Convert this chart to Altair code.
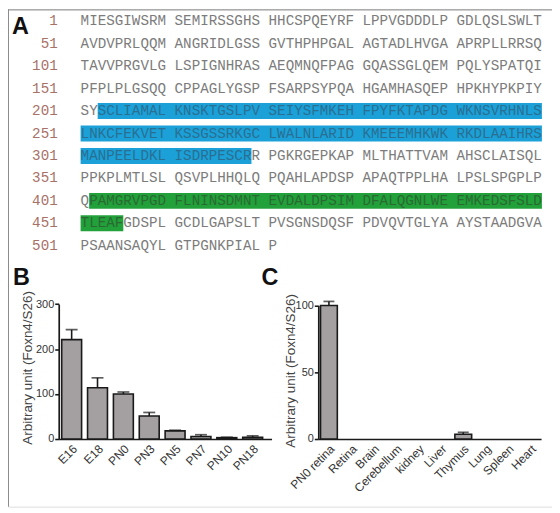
import altair as alt
import pandas as pd

# ---------------- data ----------------
seq_lines = [
    "MIESGIWSRM SEMIRSSGHS HHCSPQEYRF LPPVGDDDLP GDLQSLSWLT",
    "AVDVPRLQQM ANGRIDLGSS GVTHPHPGAL AGTADLHVGA APRPLLRRSQ",
    "TAVVPRGVLG LSPIGNHRAS AEQMNQFPAG GQASSGLQEM PQLYSPATQI",
    "PFPLPLGSQQ CPPAGLYGSP FSARPSYPQA HGAMHASQEP HPKHYPKPIY",
    "SYSCLIAMAL KNSKTGSLPV SEIYSFMKEH FPYFKTAPDG WKNSVRHNLS",
    "LNKCFEKVET KSSGSSRKGC LWALNLARID KMEEEMHKWK RKDLAAIHRS",
    "MANPEELDKL ISDRPESCRR PGKRGEPKAP MLTHATTVAM AHSCLAISQL",
    "PPKPLMTLSL QSVPLHHQLQ PQAHLAPDSP APAQTPPLHA LPSLSPGPLP",
    "QPAMGRVPGD FLNINSDMNT EVDALDPSIM DFALQGNLWE EMKEDSFSLD",
    "TLEAFGDSPL GCDLGAPSLT PVSGNSDQSF PDVQVTGLYA AYSTAADGVA",
    "PSAANSAQYL GTPGNKPIAL P",
]
row_numbers = [1, 51, 101, 151, 201, 251, 301, 351, 401, 451, 501]
hl_names = ["blue", "green"]
hl_start = [203, 402]
hl_end = [319, 455]
hl_fill = {"blue": "#1ba1d8", "green": "#22a03a"}
hl_text = {"blue": "#2a6f92", "green": "#2a6a32"}

stages = ["E16", "E18", "PN0", "PN3", "PN5", "PN7", "PN10", "PN18"]
stage_mean = [221, 114, 100, 51, 18, 5.5, 3, 4]
stage_sem = [22, 22, 4.5, 8, 1.5, 4, 1, 3]

tissues = ["PN0 retina", "Retina", "Brain", "Cerebellum", "kidney",
           "Liver", "Thymus", "Lung", "Spleen", "Heart"]
tissue_mean = [100, 0, 0, 0, 0, 0, 3.5, 0, 0, 0]
tissue_sem = [3, 0, 0, 0, 0, 0, 1.5, 0, 0, 0]

# ---------------- layout constants ----------------
W, H = 547, 500
CW = 8.59                      # monospace char advance
SEQ_X0 = 73
SEQ_Y0, ROW_H = 12, 22.57
MONO = "Courier New, Liberation Mono, monospace"
SANS = "Liberation Sans, Arial, sans-serif"
TXT = "#7c7c7c"
NUM = "#a87168"

# ---------------- sequence tables ----------------
chars = []
for r, line in enumerate(seq_lines):
    k = 0
    for c, ch in enumerate(line):
        if ch == " ":
            continue
        res = r * 50 + k + 1
        k += 1
        col = TXT
        for n, s, e in zip(hl_names, hl_start, hl_end):
            if s <= res <= e:
                col = hl_text[n]
        chars.append({"col": c, "row": r, "ch": ch, "tc": col})
chars_df = pd.DataFrame(chars)

hl = []
for n, s, e in zip(hl_names, hl_start, hl_end):
    for r in range(len(seq_lines)):
        a = max(s, r * 50 + 1)
        b = min(e, r * 50 + 50)
        if a > b:
            continue
        ka, kb = a - r * 50 - 1, b - r * 50 - 1
        hl.append({"x0": ka + ka // 10, "x1": kb + kb // 10 + 1,
                   "y0": r - 0.355, "y1": r + 0.355, "fill": hl_fill[n]})
hl_df = pd.DataFrame(hl)
nums_df = pd.DataFrame({"row": list(range(len(row_numbers))), "num": [str(v) for v in row_numbers]})

sx = alt.Scale(domain=[0, 54], range=[SEQ_X0, SEQ_X0 + 54 * CW], nice=False, zero=False)
sy = alt.Scale(domain=[0, 10], range=[SEQ_Y0, SEQ_Y0 + 10 * ROW_H], nice=False, zero=False)

hl_layer = alt.Chart(hl_df).mark_rect().encode(
    x=alt.X("x0:Q", scale=sx, axis=None), x2="x1:Q",
    y=alt.Y("y0:Q", scale=sy, axis=None), y2="y1:Q",
    color=alt.Color("fill:N", scale=None),
)
txt_layer = alt.Chart(chars_df).mark_text(
    align="left", baseline="middle", font=MONO, fontSize=14.3
).encode(
    x=alt.X("col:Q", scale=sx, axis=None),
    y=alt.Y("row:Q", scale=sy, axis=None),
    text="ch:N",
    color=alt.Color("tc:N", scale=None),
)
num_layer = alt.Chart(nums_df).mark_text(
    align="right", baseline="middle", font=MONO, fontSize=14.3, color=NUM
).encode(
    x=alt.value(50),
    y=alt.Y("row:Q", scale=sy, axis=None),
    text="num:N",
)
seq = alt.layer(hl_layer, txt_layer, num_layer)

# ---------------- bar panels ----------------
BAR_FILL = "#a4a0a2"
INK = "#1a1a1a"


def bar_panel(cats, means, sems, x_range, pad_in, pad_out, align, y_dom, y_range, y_vals,
              cap, y_axis_x, title_dx, title_y):
    df = pd.DataFrame({"cat": cats, "mean": means, "sem": sems})
    df["top"] = df["mean"] + df["sem"]
    xs = alt.Scale(domain=cats, range=x_range, paddingInner=pad_in, paddingOuter=pad_out,
                   align=align)
    ys = alt.Scale(domain=y_dom, range=y_range, nice=False, zero=True)
    xax = alt.Axis(orient="bottom", offset=y_range[0] - H, labelAngle=-45, ticks=False,
                   labelFont=SANS, labelFontSize=12, labelColor="#333", labelPadding=4,
                   domainColor=INK, domainWidth=1.7, title=None, grid=False)
    yax = alt.Axis(orient="left", offset=-y_axis_x, values=y_vals, tickSize=4, tickWidth=1.6,
                   tickColor=INK, domainColor=INK, domainWidth=1.7, grid=False,
                   labelFont=SANS, labelFontSize=11, labelColor="#333", labelPadding=1,
                   title="Arbitrary unit (Foxn4/S26)", titleFont=SANS, titleFontSize=13.5,
                   titleFontWeight="normal", titleColor="#444", titleAngle=270,
                   titleBaseline="alphabetic", titleAlign="center",
                   titleX=title_dx, titleY=title_y)
    base = alt.Chart(df).mark_bar(fill=BAR_FILL, stroke=INK, strokeWidth=1.6).encode(
        x=alt.X("cat:N", scale=xs, axis=xax, sort=cats),
        y=alt.Y("mean:Q", scale=ys, axis=yax),
    ).transform_filter("datum.mean > 0")
    err = alt.Chart(df).transform_filter("datum.sem > 0")
    rules = err.mark_rule(color=INK, strokeWidth=1.6).encode(
        x=alt.X("cat:N", scale=xs, sort=cats), y=alt.Y("mean:Q", scale=ys), y2="top:Q"
    )
    caps = err.mark_tick(color=INK, thickness=1.7, size=cap).encode(
        x=alt.X("cat:N", scale=xs, sort=cats), y=alt.Y("top:Q", scale=ys)
    )
    return alt.layer(base, rules, caps)


panel_b = bar_panel(stages, stage_mean, stage_sem, [51, 265], 0.23, 0.23, 0.25,
                    [0, 300], [432, 296.3], [0, 100, 200, 300], 12, 51, -27.5, 360)
panel_c = bar_panel(tissues, tissue_mean, tissue_sem, [312, 536], 0.25, 0.1, 0.5,
                    [0, 100], [432, 297.7], [0, 50, 100], 11, 312, -23.5, 363)

# ---------------- decorations ----------------
one = pd.DataFrame({"k": [0]})
letters = []
for lab, lx, ly in [("A", 4, 25), ("B", 5, 277), ("C", 255, 277)]:
    letters.append(
        alt.Chart(one).mark_text(align="left", baseline="alphabetic", font=SANS,
                                 fontSize=23.5, fontWeight="bold", color="#111").encode(
            x=alt.value(lx), y=alt.value(ly), text=alt.value(lab))
    )
frame_top = alt.Chart(one).mark_rule(color="#8a8a8a", strokeWidth=1).encode(
    x=alt.value(0), x2=alt.value(W), y=alt.value(0.5))
frame_left = alt.Chart(one).mark_rule(color="#8a8a8a", strokeWidth=1).encode(
    x=alt.value(0.5), y=alt.value(0), y2=alt.value(H))

chart = alt.layer(
    seq, panel_b, panel_c, frame_top, frame_left, *letters
).resolve_scale(x="independent", y="independent").properties(
    width=W, height=H, padding=0,
    autosize=alt.AutoSizeParams(type="none"),
).configure_view(stroke=None).configure(background="white")

chart.save("out.html", embed_options={"renderer": "svg", "actions": False})
